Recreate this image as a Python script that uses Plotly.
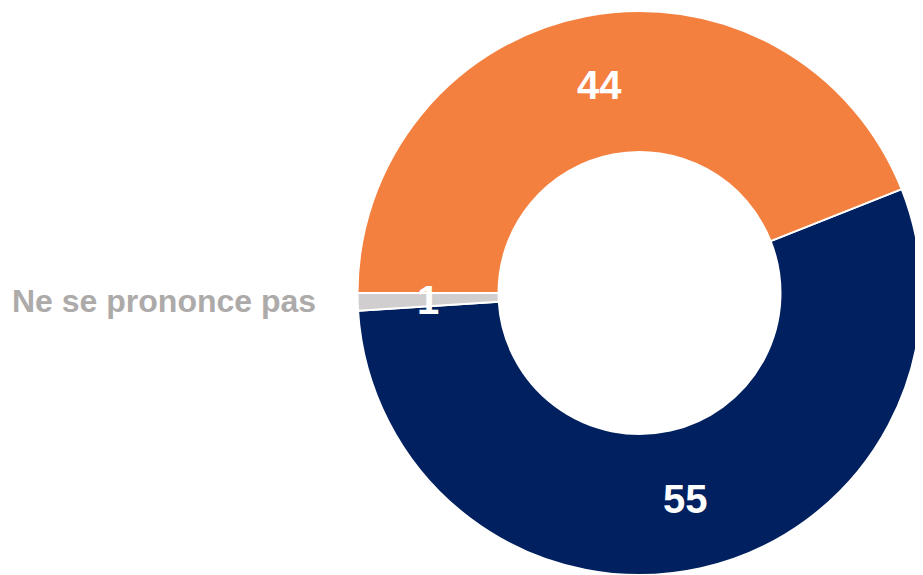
import math
import plotly.graph_objects as go

labels = ["Oui", "Ne se prononce pas", "Non"]
values = [55, 1, 44]
display_text = ["55", "1", "44"]
colors = ["#00205F", "#D0CECE", "#F4803F"]
side_label = "Ne se prononce pas"

# page body has a default 8px margin; figure is laid out in page pixels minus that offset
OFF = 8
W, H = 923 - OFF, 575 - OFF
rotation = 68.4
top_margin = 3
cx_px = 639.5 - OFF
plot_h = H - top_margin
radius_px = plot_h / 2
cy_px = top_margin + radius_px
hole = 0.5

dom_x = [(cx_px - radius_px) / W, min(1.0, (cx_px + radius_px) / W)]


def to_paper(page_x, page_y):
    px, py = page_x - OFF, page_y - OFF
    return px / W, (H - py) / plot_h


fig = go.Figure(go.Pie(
    labels=labels,
    values=values,
    sort=False,
    direction="clockwise",
    rotation=rotation,
    hole=hole,
    marker=dict(colors=colors, line=dict(color="white", width=2)),
    textinfo="none",
    textposition="none",
    hoverinfo="label+value",
    showlegend=False,
    domain=dict(x=dom_x, y=[0, 1]),
))

# data labels at mid radius of each slice
total = sum(values)
start = rotation
r_mid = radius_px * (1 + hole) / 2
annotations = []
for v, t in zip(values, display_text):
    mid = start + v / total * 360 / 2
    start += v / total * 360
    a = math.radians(mid)
    px = cx_px + r_mid * math.sin(a)
    py = cy_px - r_mid * math.cos(a)
    x, y = px / W, (H - py) / plot_h
    annotations.append(dict(
        x=x, y=y, xref="paper", yref="paper",
        text=f"<b>{t}</b>", showarrow=False,
        font=dict(family="Liberation Sans, Arial, sans-serif", size=40, color="white"),
        xanchor="center", yanchor="middle",
    ))

lx, ly = to_paper(318, 301)
annotations.append(dict(
    x=lx, y=ly, xref="paper", yref="paper",
    text=f"<b>{side_label}</b>", showarrow=False,
    font=dict(family="Liberation Sans, Arial, sans-serif", size=32, color="#ADAAAA"),
    xanchor="right", yanchor="middle",
))

fig.update_layout(
    width=W, height=H,
    margin=dict(l=0, r=0, t=top_margin, b=0),
    paper_bgcolor="white", plot_bgcolor="white",
    annotations=annotations,
)

fig.write_html("out.html")
